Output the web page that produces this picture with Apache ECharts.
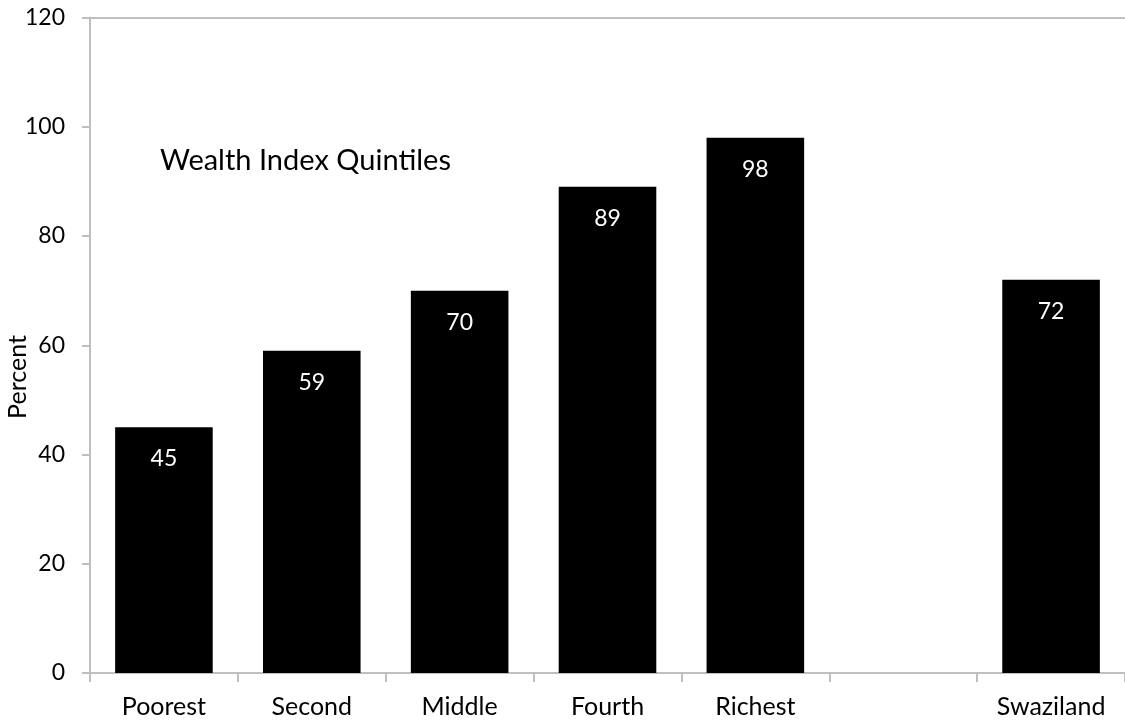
<!DOCTYPE html>
<html>
<head>
<meta charset="utf-8">
<title>Wealth Index Quintiles</title>
<script src="https://cdn.jsdelivr.net/npm/echarts@6/dist/echarts.min.js"></script>
<style>
  html, body { margin: 0; padding: 0; background: #ffffff; }
  #chart { width: 1125px; height: 724px; }
</style>
</head>
<body>
<div id="chart"></div>
<script>
// Categories along the bottom; the empty slot separates the quintiles from the national figure
const categories = ['Poorest', 'Second', 'Middle', 'Fourth', 'Richest', '', 'Swaziland'];
// Percent per category (null = gap)
const values = [45, 59, 70, 89, 98, null, 72];
// Y axis range and step
const yMin = 0;
const yMax = 120;
const yStep = 20;

const FONT = 'Lato, "Liberation Sans", sans-serif';
const AXIS_GREY = '#bfbfbf';

const chart = echarts.init(document.getElementById('chart'), null, { renderer: 'canvas' });

chart.setOption({
  animation: false,
  backgroundColor: '#ffffff',
  grid: { left: 90, right: -8, top: 17.5, bottom: 51, containLabel: false },
  xAxis: [
    {
      type: 'category',
      data: categories,
      position: 'bottom',
      axisLine: { show: true, lineStyle: { color: AXIS_GREY, width: 2 } },
      axisTick: { show: true, length: 9, lineStyle: { color: AXIS_GREY, width: 2 } },
      axisLabel: { color: '#000000', fontFamily: FONT, fontSize: 25, margin: 21 },
      splitLine: { show: false }
    },
    {
      // top frame line at the 120 mark
      type: 'category',
      data: categories,
      position: 'top',
      axisLine: { show: true, lineStyle: { color: AXIS_GREY, width: 2 } },
      axisTick: { show: false },
      axisLabel: { show: false },
      splitLine: { show: false }
    }
  ],
  yAxis: {
    type: 'value',
    min: yMin,
    max: yMax,
    interval: yStep,
    axisLine: { show: true, lineStyle: { color: AXIS_GREY, width: 2 } },
    axisTick: { show: true, length: 8, lineStyle: { color: AXIS_GREY, width: 2 } },
    axisLabel: { color: '#000000', fontFamily: FONT, fontSize: 23, margin: 25 },
    splitLine: { show: false }
  },
  series: [
    {
      type: 'bar',
      data: values,
      xAxisIndex: 0,
      barWidth: '66%',
      itemStyle: { color: '#000000' },
      label: {
        show: true,
        position: 'insideTop',
        distance: 20,
        color: '#ffffff',
        fontFamily: FONT,
        fontSize: 23
      }
    }
  ],
  graphic: [
    {
      type: 'text',
      left: 160,
      top: 146,
      style: {
        text: 'Wealth Index Quintiles',
        fill: '#000000',
        font: '29px ' + FONT
      }
    },
    {
      type: 'text',
      x: 18,
      y: 377,
      rotation: Math.PI / 2,
      style: {
        text: 'Percent',
        fill: '#000000',
        font: '25px ' + FONT,
        align: 'center',
        verticalAlign: 'middle'
      }
    }
  ]
});
</script>
</body>
</html>
